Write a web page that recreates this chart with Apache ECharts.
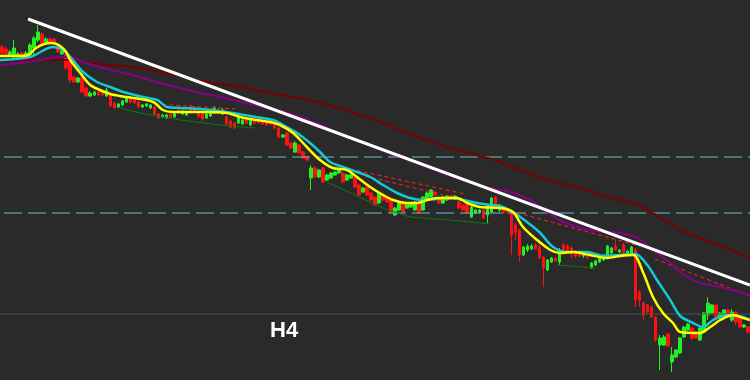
<!DOCTYPE html>
<html>
<head>
<meta charset="utf-8">
<script src="https://cdn.jsdelivr.net/npm/echarts@6/dist/echarts.min.js"></script>
<style>
html,body{margin:0;padding:0;background:#2a2a2a;}
#chart{width:750px;height:380px;}
</style>
</head>
<body>
<div id="chart"></div>
<script>
// Candle data (price units), one entry per H4 bar
var opens = [333,331,325,324,324,327,324,325,332,340,346,338,341,341,333,326,325,318,303,298,302,292,284,285,288,287,284,287,277,273,275,278,282,280,278,273,274,272,273,266,263,262,266,263,270,266,265,273,272,268,266,262,264,267,270,266,263,259,257,257,256,260,255,260,260,259,258,259,257,252,243,247,237,228,235,228,223,202,212,203,212,200,202,205,207,207,200,202,203,195,188,193,187,183,177,185,182,180,165,170,177,172,173,170,177,170,180,183,188,182,177,180,184,181,178,175,175,163,167,167,170,165,168,183,170,172,171,167,155,150,125,130,131,135,133,123,110,118,122,118,135,134,132,129,127,124,127,112,115,118,120,125,127,134,128,135,126,127,130,88,77,75,73,63,35,35,46,18,23,27,43,50,52,48,40,48,65,67,75,62,64,70,60,68,62,53,53];
var closes = [327,326,328,332,326,325,327,335,342,348,337,341,338,338,328,329,312,300,298,302,288,284,287,288,285,285,290,274,272,276,279,282,278,277,273,275,276,275,266,262,265,265,263,267,267,268,268,270,268,264,261,266,268,272,267,270,256,253,252,264,260,257,260,257,257,256,255,256,252,243,245,235,232,237,227,222,220,212,203,210,198,205,207,208,210,198,205,205,193,185,192,185,180,175,187,180,178,168,172,178,168,177,177,178,167,183,187,190,185,177,183,184,181,184,172,170,167,173,170,170,162,175,182,172,175,167,168,145,148,125,133,134,134,131,122,112,120,122,119,128,129,129,126,124,124,128,123,117,119,122,125,134,132,130,130,127,129,133,80,80,65,68,63,40,42,43,34,25,30,42,53,56,42,42,52,67,77,75,63,67,70,63,68,58,53,55,48];
var lows = [324,324,323,322,322,323,322,323,324,338,335,337,337,336,327,325,310,297,297,297,287,283,283,284,284,284,283,273,271,272,274,277,276,276,272,272,273,271,265,261,262,261,262,262,266,265,264,269,267,262,259,261,263,266,266,265,254,252,251,256,255,256,254,256,256,255,254,255,251,242,242,234,231,227,226,221,219,190,202,202,197,199,201,204,206,197,199,201,192,184,187,184,179,174,176,179,177,167,164,169,167,171,172,169,166,169,179,182,184,176,176,179,180,180,171,169,166,162,166,166,161,157,167,171,168,166,167,125,140,118,124,128,130,130,121,93,109,117,118,115,128,127,122,122,123,122,121,111,114,117,119,124,126,129,127,126,125,126,73,73,60,67,62,38,10,34,33,8,22,26,42,49,40,41,39,47,60,66,62,61,63,62,58,55,52,52,46];
var highs = [335,333,330,340,328,328,329,337,344,355,348,343,343,342,335,331,327,320,304,303,303,293,289,289,289,288,292,288,278,277,280,283,284,281,279,276,277,276,274,267,266,266,267,268,272,270,269,276,274,269,267,268,270,274,272,272,264,260,258,266,262,261,262,261,262,260,259,260,258,253,246,248,238,239,236,229,224,215,214,211,213,206,208,209,211,208,206,206,204,196,193,194,188,184,188,186,183,181,173,179,178,178,178,179,178,184,188,191,189,183,184,185,185,185,179,176,176,174,171,171,171,176,183,184,176,173,172,168,157,151,134,136,136,137,135,124,121,123,123,132,137,136,134,130,128,129,128,118,120,123,126,135,133,140,131,137,130,134,132,90,78,76,74,64,45,45,47,33,31,43,54,57,53,50,53,68,83,76,76,68,71,71,71,69,63,56,54];

// Indicator lines: [bar index, price]
var emaFast = [[-0.5,324],[4.5,324],[6.5,325],[8.5,332],[10.5,336],[12.5,337],[14.5,334],[16,328],[17,320],[19.5,307],[22,295],[24.4,290],[27,286],[29.4,284],[32.7,282],[37.7,278],[40.1,270],[42.6,268],[49.4,268],[56.1,267],[59.4,263],[61.8,261],[66.8,258],[69.3,255],[72.6,247],[76,233],[79.3,220],[82.5,212],[86,210],[88.5,203],[91.8,193],[95,185],[97.5,180],[101,177],[103.5,177],[106,180],[108.5,182],[113.5,182],[116,177],[119.2,173],[124.2,172],[127.4,168],[129.9,153],[133.4,140],[136.7,130],[139.1,127],[142.4,128],[146.6,125],[150.9,122],[154.1,124],[157.4,125],[159.9,107],[162.3,83],[164.8,67],[167.3,57],[169.1,48],[174.1,47],[176.6,53],[179.1,60],[182.3,65],[184.8,62],[186.5,60]];
var emaSlow = [[-0.5,320],[7,323],[12.7,333],[15.2,330],[17.7,320],[20.2,308],[23.7,298],[27,293],[30.2,288],[35.2,283],[38.7,280],[41.1,273],[44.4,272],[49.4,271],[56.1,268],[61.8,264],[67.6,260],[70.1,255],[73.6,247],[76.8,237],[79.3,228],[81.8,218],[85,213],[88.5,208],[91.8,203],[95,195],[98.5,187],[101.7,182],[105,180],[111.7,182],[115,180],[118.5,177],[121.7,175],[124.2,174],[127.4,168],[130.9,158],[134.2,147],[137.4,133],[140.9,128],[145.9,128],[149.9,124],[154.1,125],[157.9,126],[160.9,115],[163.3,100],[166.6,80],[169.1,64],[172.3,57],[174.8,53],[177.3,60],[180.8,65],[184.8,63],[186.5,60]];
var maMid = [[-0.5,315],[4.5,317],[9.5,320],[14.5,323],[17,323],[20.2,318],[24.4,313],[29.4,308],[34.4,303],[39.4,297],[44.4,292],[49.4,287],[54.4,283],[61.8,276],[69.3,269],[74.3,263],[81.8,251],[89.3,238],[99.3,223],[109.2,208],[119.9,193],[125.9,189],[131.7,180],[135.9,168],[139.9,158],[146.6,150],[154.1,147],[158.4,142],[162.3,130],[166.6,117],[170.8,103],[174.1,97],[179.1,93],[184,88],[186.5,85]];
var maLong = [[-0.5,320],[7,320],[16.2,320],[24.4,316],[34.4,312],[39.4,308],[44.4,304],[49.4,299],[56.1,295],[61.8,291],[69.6,285],[78.6,278],[86.8,268],[95,257],[103.5,243],[111.7,232],[120,223],[124.2,218],[129.2,210],[135.9,200],[144.1,192],[152.4,182],[158.4,175],[162.3,167],[169.1,150],[177.3,137],[186.5,122]];
var trendLine = [[6.5,361],[186.5,95]];
var resA = [[38.2,276],[58.1,271]];
var resB = [[86.8,211],[115.5,186]];
var resC = [[90.5,204],[114.2,181]];
var resD = [[126.7,169],[159.1,134]];
var resE = [[162.8,121],[186.5,84]];
var supA = [[29.4,272],[34.4,267],[44.4,260],[54.4,255],[63.1,252]];
var supB = [[81,198],[95,172],[98.5,167],[101.7,163],[111.7,160],[121.7,156]];
var supC = [[138.4,115],[147.9,112]];
var levels = [223, 167];
var baseLevel = 66;

var n = opens.length;
var cats = [], candles = [];
for (var i = 0; i < n; i++) { cats.push(i); candles.push([opens[i], closes[i], lows[i], highs[i]]); }

function ln(data, color, width, type, extra) {
  var s = { type: 'line', xAxisIndex: 1, yAxisIndex: 0, data: data, showSymbol: false, symbol: 'none',
    silent: true, animation: false, lineStyle: { color: color, width: width, type: type || 'solid' } };
  if (extra) for (var k in extra) s[k] = extra[k];
  return s;
}

var series = [];
levels.forEach(function (v) {
  var s = ln([[-0.5, v], [n - 0.5, v]], '#62c2cc', 1, [18, 6]);
  s.lineStyle.dashOffset = 20;
  series.push(s);
});
series.push(ln([[-0.5, baseLevel], [n - 0.5, baseLevel]], '#4b525b', 1));
series.push({
  type: 'candlestick', xAxisIndex: 0, yAxisIndex: 0, data: candles, barWidth: 3, animation: false, silent: true,
  itemStyle: { color: '#22ee22', color0: '#ff1111', borderColor: '#22ee22', borderColor0: '#ff1111', borderWidth: 1 }
});
[supA, supB, supC].forEach(function (d) { series.push(ln(d, '#0c7a0c', 1)); });
[resA, resB, resC, resD, resE].forEach(function (d) { series.push(ln(d, '#ff2222', 1, [4, 3])); });
series.push(ln(maLong, '#7a0000', 2, 'solid', { smooth: 0.3 }));
series.push(ln(maMid, '#880088', 2, 'solid', { smooth: 0.3 }));
series.push(ln(trendLine, '#ffffff', 3));
series.push(ln(emaSlow, '#14c8d4', 2.5, 'solid', { smooth: 0.3 }));
series.push(ln(emaFast, '#ffff00', 2.5, 'solid', { smooth: 0.3 }));

var chart = echarts.init(document.getElementById('chart'), null, { renderer: 'canvas' });
chart.setOption({
  backgroundColor: '#2a2a2a',
  animation: false,
  grid: { left: 0, right: 0, top: 0, bottom: 0 },
  xAxis: [
    { type: 'category', data: cats, boundaryGap: true, show: false },
    { type: 'value', min: -0.5, max: n - 0.5, show: false }
  ],
  yAxis: [{ type: 'value', min: 0, max: 380, show: false, scale: false }],
  graphic: [{
    type: 'text', left: 270, top: 320, silent: true,
    style: { text: 'H4', fill: '#ffffff', font: 'bold 22px "Liberation Sans", Arial, sans-serif' }
  }],
  series: series
});
</script>
</body>
</html>
